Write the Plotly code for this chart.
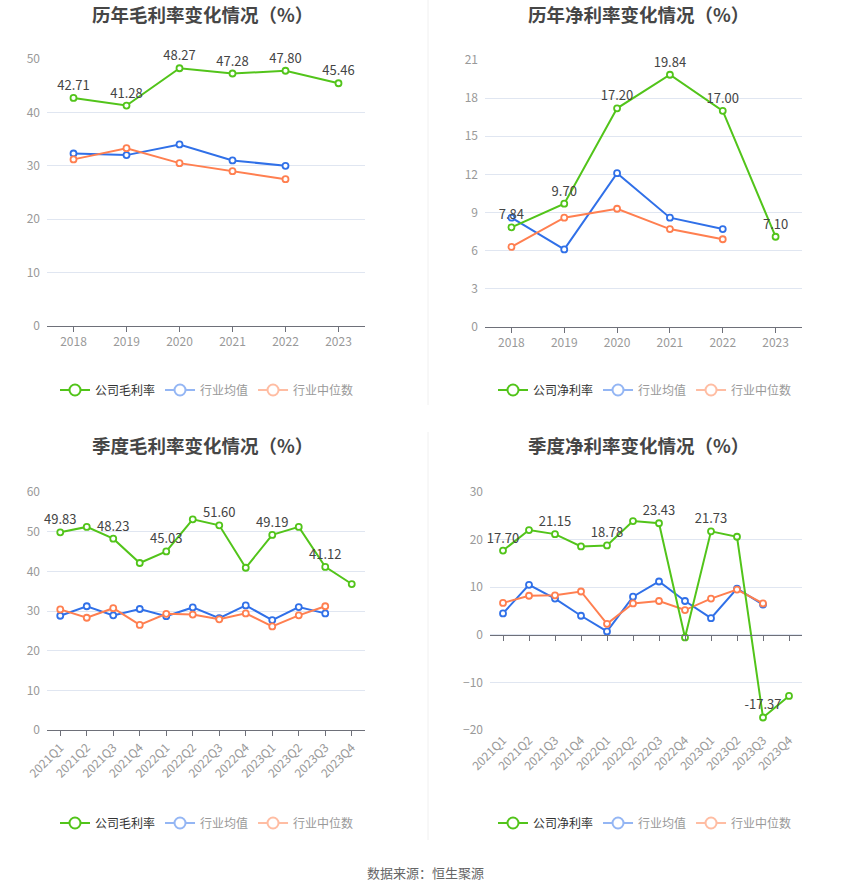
import plotly.graph_objects as go

# 数据
years = ["2018", "2019", "2020", "2021", "2022", "2023"]
quarters = ["2021Q1", "2021Q2", "2021Q3", "2021Q4",
            "2022Q1", "2022Q2", "2022Q3", "2022Q4",
            "2023Q1", "2023Q2", "2023Q3", "2023Q4"]

year_gross_company = [42.71, 41.28, 48.27, 47.28, 47.80, 45.46]
year_gross_mean = [32.3, 32.0, 34.0, 31.0, 30.0]
year_gross_median = [31.2, 33.3, 30.5, 29.0, 27.5]

year_net_company = [7.84, 9.70, 17.20, 19.84, 17.00, 7.10]
year_net_mean = [8.6, 6.1, 12.1, 8.6, 7.7]
year_net_median = [6.3, 8.6, 9.3, 7.7, 6.9]

q_gross_company = [49.83, 51.2, 48.23, 42.1, 45.03, 53.1, 51.60, 40.9, 49.19, 51.2, 41.12, 36.8]
q_gross_mean = [28.8, 31.2, 28.9, 30.5, 28.7, 30.9, 28.2, 31.4, 27.7, 31.0, 29.4]
q_gross_median = [30.4, 28.3, 30.7, 26.5, 29.3, 29.1, 27.9, 29.4, 26.1, 28.9, 31.2]

q_net_company = [17.70, 22.0, 21.15, 18.56, 18.78, 23.9, 23.43, -0.56, 21.73, 20.6, -17.37, -12.84]
q_net_mean = [4.5, 10.5, 7.6, 4.0, 0.7, 8.0, 11.2, 7.1, 3.5, 9.7, 6.35]
q_net_median = [6.7, 8.2, 8.3, 9.1, 2.3, 6.6, 7.1, 5.2, 7.6, 9.5, 6.6]

titles = ["历年毛利率变化情况（%）", "历年净利率变化情况（%）",
          "季度毛利率变化情况（%）", "季度净利率变化情况（%）"]

GREEN = "#52C41A"
BLUE = "#3070E8"
ORANGE = "#FF7F50"
W, H = 850, 890
FONT = "Noto Sans CJK SC"

fig = go.Figure()


def px_x(v):
    return v / W


def px_y(v):
    return 1 - v / H


# 四个图的位置 (像素)
panels = [
    dict(x=(47, 365), y=(59, 326), cats=years, yr=[0, 50], dt=10,
         data=(year_gross_company, year_gross_mean, year_gross_median),
         name="公司毛利率", every=1, title_x=202, title_y=14, leg_x=207, leg_y=390),
    dict(x=(485, 802), y=(60, 327), cats=years, yr=[0, 21], dt=3,
         data=(year_net_company, year_net_mean, year_net_median),
         name="公司净利率", every=1, title_x=638, title_y=14, leg_x=645, leg_y=390),
    dict(x=(47, 365), y=(492, 730), cats=quarters, yr=[0, 60], dt=10,
         data=(q_gross_company, q_gross_mean, q_gross_median),
         name="公司毛利率", every=2, title_x=202, title_y=445, leg_x=207, leg_y=823),
    dict(x=(490, 802), y=(492, 730), cats=quarters, yr=[-20, 30], dt=10,
         data=(q_net_company, q_net_mean, q_net_median),
         name="公司净利率", every=2, title_x=638, title_y=445, leg_x=645, leg_y=823),
]

annotations = []
for i, p in enumerate(panels):
    n = i + 1
    xa = "x" if n == 1 else f"x{n}"
    ya = "y" if n == 1 else f"y{n}"
    leg = "legend" if n == 1 else f"legend{n}"
    company, mean, median = p["data"]
    labels = [f"{v:.2f}" if k % p["every"] == 0 else "" for k, v in enumerate(company)]

    for vals, color, txt in [(mean, BLUE, None), (median, ORANGE, None), (company, GREEN, labels)]:
        fig.add_trace(go.Scatter(
            x=p["cats"][:len(vals)], y=vals, xaxis=xa, yaxis=ya,
            mode="lines+markers+text" if txt else "lines+markers",
            text=txt, textposition="top center",
            textfont=dict(size=13, color="#444444", family=FONT),
            line=dict(color=color, width=2),
            marker=dict(symbol="circle", size=6, color="white",
                        line=dict(color=color, width=1.8)),
            cliponaxis=False, showlegend=False, hoverinfo="x+y"))

    # 图例
    for lname, color, tcolor in [(p["name"], GREEN, "#333333"),
                                 ("行业均值", "#94B6F4", "#999999"),
                                 ("行业中位数", "#FFBDA3", "#999999")]:
        fig.add_trace(go.Scatter(
            x=[None], y=[None], xaxis=xa, yaxis=ya, mode="lines+markers",
            name=f"<span style='color:{tcolor}'>{lname}</span>",
            line=dict(color=color, width=2),
            marker=dict(symbol="circle", size=11, color="white",
                        line=dict(color=color, width=2)),
            legend=leg, showlegend=True))

    dom_x = [px_x(p["x"][0]), px_x(p["x"][1])]
    dom_y = [px_y(p["y"][1]), px_y(p["y"][0])]
    rotated = p["cats"] is quarters
    xaxis = dict(domain=dom_x, anchor=ya, type="category", automargin=False,
                 categoryorder="array", categoryarray=p["cats"],
                 range=[-0.5, len(p["cats"]) - 0.5],
                 showgrid=False, zeroline=False,
                 showline=True, linecolor="#6E7079", linewidth=1,
                 ticks="outside", ticklen=5, tickcolor="#6E7079",
                 tickfont=dict(size=12, color="#999999", family=FONT),
                 tickangle=-45 if rotated else 0, fixedrange=True)
    yaxis = dict(domain=dom_y, anchor=xa, range=p["yr"], dtick=p["dt"], automargin=False,
                 showgrid=True, gridcolor="#E0E6F1", gridwidth=1,
                 zeroline=False, showline=False, ticks="",
                 ticklabelstandoff=6,
                 tickfont=dict(size=12, color="#999999", family=FONT),
                 fixedrange=True)
    if n == 4:
        xaxis.update(showline=False, ticks="")
    fig.update_layout(**{("xaxis" if n == 1 else f"xaxis{n}"): xaxis,
                         ("yaxis" if n == 1 else f"yaxis{n}"): yaxis})
    fig.update_layout(**{leg: dict(
        orientation="h", x=px_x(p["leg_x"]), y=px_y(p["leg_y"]),
        xanchor="center", yanchor="middle", bgcolor="rgba(0,0,0,0)",
        font=dict(size=12, family=FONT), itemwidth=30, tracegroupgap=0)})

    annotations.append(dict(
        text=f"<b>{titles[i]}</b>", x=px_x(p["title_x"]), y=px_y(p["title_y"]),
        xref="paper", yref="paper", showarrow=False, xanchor="center", yanchor="middle",
        font=dict(size=18.5, color="#464646", family=FONT)))

# 季度净利率: 0 处的轴线与刻度
p4 = panels[3]
dom4 = fig.layout.yaxis4.domain
zero_pos = dom4[0] + (0 - p4["yr"][0]) / (p4["yr"][1] - p4["yr"][0]) * (dom4[1] - dom4[0])
fig.add_trace(go.Scatter(x=quarters, y=[None] * len(quarters), xaxis="x5", yaxis="y4",
                         mode="lines", showlegend=False, hoverinfo="skip"))
fig.update_layout(xaxis5=dict(
    overlaying="x4", anchor="free", position=zero_pos, domain=fig.layout.xaxis4.domain,
    type="category", categoryorder="array", categoryarray=quarters, automargin=False,
    range=[-0.5, len(quarters) - 0.5], showticklabels=False, showgrid=False,
    zeroline=False, showline=True, linecolor="#6E7079", linewidth=1,
    ticks="outside", ticklen=5, tickcolor="#6E7079", fixedrange=True))

annotations.append(dict(
    text="数据来源：恒生聚源", x=0.5, y=px_y(872), xref="paper", yref="paper",
    showarrow=False, xanchor="center", yanchor="middle",
    font=dict(size=13, color="#666666", family=FONT)))

# 分隔线
shapes = [
    dict(type="line", xref="paper", yref="paper", x0=px_x(428), x1=px_x(428),
         y0=px_y(0), y1=px_y(405), line=dict(color="#F0F0F0", width=1)),
    dict(type="line", xref="paper", yref="paper", x0=px_x(428), x1=px_x(428),
         y0=px_y(432), y1=px_y(840), line=dict(color="#F0F0F0", width=1)),
]

fig.update_layout(
    width=W, height=H, margin=dict(l=0, r=0, t=0, b=0, autoexpand=False),
    paper_bgcolor="white", plot_bgcolor="white",
    font=dict(family=FONT, color="#333333"),
    annotations=annotations, shapes=shapes, showlegend=True)

fig.write_html("out.html", config={"displayModeBar": False},
               post_script="document.body.style.margin='0';")
